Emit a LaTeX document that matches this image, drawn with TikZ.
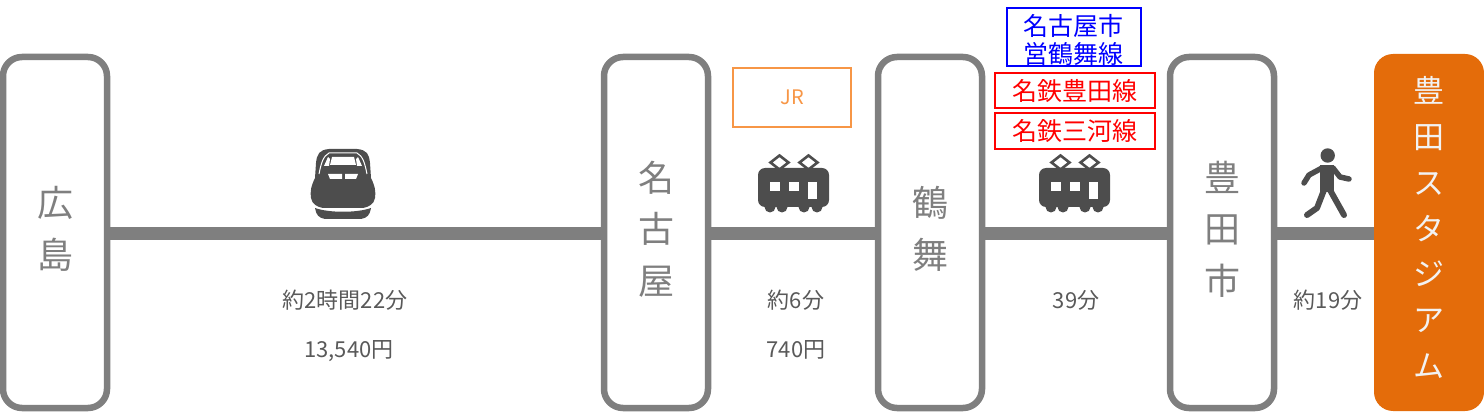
\documentclass[tikz,border=0pt]{standalone}
\usepackage{fontspec}
\setmainfont{Noto Sans CJK JP}
\usetikzlibrary{positioning}
\definecolor{linegray}{HTML}{7F7F7F}
\definecolor{icongray}{HTML}{4D4D4D}
\definecolor{textgray}{HTML}{595959}
\definecolor{goalorange}{HTML}{E46C0A}
\definecolor{jrorange}{HTML}{F79646}
\tikzset{
  stationbox/.style={draw=linegray, line width=6.5pt, rounded corners=19pt, fill=white,
    minimum width=104pt, minimum height=351pt, inner sep=0pt},
  stationtext/.style={inner sep=0pt, align=center, text=linegray,
    font=\fontsize{36}{51.5}\selectfont},
  goalbox/.style={fill=goalorange, rounded corners=19pt, minimum width=110pt,
    minimum height=357pt, inner sep=0pt},
  goaltext/.style={inner sep=0pt, align=center, text=white!95!black,
    font=\fontsize{31}{45.8}\selectfont},
  railline/.style={draw=linegray, line width=13pt},
  farelabel/.style={text=textgray, inner sep=0pt, font=\fontsize{22}{24}\selectfont},
  linebox/.style={draw, line width=2pt, inner sep=0pt},
  linetext/.style={inner sep=0pt, align=center, font=\fontsize{25}{28}\selectfont},
  pics/localtrain/.style={code={
    % pantographs
    \draw[icongray, line width=2.6pt] (-14,-28.5) -- (-5,-21.5) -- (-14,-14.5) -- (-23,-21.5) -- cycle;
    \draw[icongray, line width=2.6pt] (15,-28.5) -- (24,-21.5) -- (15,-14.5) -- (6,-21.5) -- cycle;
    % car body and wheels
    \fill[icongray, rounded corners=7pt] (-35.5,23) -- (-35.5,-16) -- (35.5,-16) -- (35.5,23) -- cycle;
    \foreach \wx in {-23.5,-11.5,10.5,23.5}
      \fill[icongray] (\wx,23) circle (5.5);
    % windows and door
    \fill[white] (-23.5,-2) rectangle (-13.5,7);
    \fill[white] (-4.5,-2) rectangle (5.5,7);
    \fill[white] (14.5,-2) rectangle (23.5,15);
  }},
}
\begin{document}
\begin{tikzpicture}[x=1pt, y=-1pt]
  \useasboundingbox (0,0) rectangle (1484,414);

  % Stations along the route
  \node[stationbox] (hiroshima) at (55,232.5) {};
  \node[stationbox] (nagoya) at (656,232.5) {};
  \node[stationbox] (tsurumai) at (930,232.5) {};
  \node[stationbox] (toyotashi) at (1222,232.5) {};
  \node[goalbox] (stadium) at (1429,232.5) {};

  % Track between the stations
  \draw[railline] ([yshift=-1pt]hiroshima.east) -- ([yshift=-1pt]nagoya.west);
  \draw[railline] ([yshift=-1pt]nagoya.east) -- ([yshift=-1pt]tsurumai.west);
  \draw[railline] ([yshift=-1pt]tsurumai.east) -- ([yshift=-1pt]toyotashi.west);
  \draw[railline] ([yshift=-1pt]toyotashi.east) -- ([yshift=-1pt]stadium.west);

  % Station names
  \node[stationtext] (hiroshimaname) at (55,229) {広\\島};
  \node[stationtext] (nagoyaname) at (656,229) {名\\古\\屋};
  \node[stationtext] (tsurumainame) at (930,229) {鶴\\舞};
  \node[stationtext] (toyotashiname) at (1222,229) {豊\\田\\市};
  \node[goaltext] (stadiumname) at (1429,227.5) {豊\\田\\ス\\タ\\ジ\\ア\\ム};

  % Operator boxes
  \node[linebox, draw=jrorange, minimum width=118pt, minimum height=59pt] (jr) at (792,97.5) {};
  \node[text=jrorange, inner sep=0pt, font=\fontsize{20}{24}\selectfont] (jrname) at (792,97.5) {JR};
  \node[linebox, draw=blue, minimum width=134pt, minimum height=58pt] (subway) at (1073.5,37.5) {};
  \node[linetext, text=blue] (subwayname) at (1073.5,40) {名古屋市\\営鶴舞線};
  \node[linebox, draw=red, minimum width=160pt, minimum height=35pt] (toyotaline) at (1075,90.5) {};
  \node[linetext, text=red] (toyotalinename) at (1075,91.5) {名鉄豊田線};
  \node[linebox, draw=red, minimum width=160pt, minimum height=36pt] (mikawaline) at (1075,131) {};
  \node[linetext, text=red] (mikawalinename) at (1075,131.5) {名鉄三河線};

  % Bullet train
  \begin{scope}[shift={(343,184)}]
    \fill[icongray] (-27,-21) .. controls (-26,-30) and (-24,-34) .. (-14,-35)
      -- (14,-35) .. controls (24,-34) and (26,-30) .. (27,-21)
      -- (28,-6) .. controls (32,2) and (33,8) .. (32,14)
      .. controls (31,20) and (26,23) .. (20,24) -- (-20,24)
      .. controls (-26,23) and (-31,20) .. (-32,14)
      .. controls (-33,8) and (-32,2) .. (-28,-6) -- cycle;
    \fill[icongray] (-28,24) .. controls (-14,29) and (14,29) .. (28,24)
      .. controls (27,31) and (24,34) .. (18,35) -- (-18,35)
      .. controls (-24,34) and (-27,31) .. (-28,24) -- cycle;
    \draw[white, line width=1pt] (-24,-10) .. controls (-22,-20) and (-20,-28) .. (-14,-31)
      -- (14,-31) .. controls (20,-28) and (22,-20) .. (24,-10);
    \fill[white] (-11,-27) -- (11,-27) -- (13,-19) -- (-13,-19) -- cycle;
    \fill[white] (-15,-27) -- (-19,-18) -- (-14,-18) -- (-13,-25) -- cycle;
    \fill[white] (15,-27) -- (19,-18) -- (14,-18) -- (13,-25) -- cycle;
    \fill[white] (-15,-10) -- (-1,-10) -- (-1,-5) -- (-13,-5) -- cycle;
    \fill[white] (15,-10) -- (2,-10) -- (2,-5) -- (13,-5) -- cycle;
  \end{scope}

  % Local trains
  \pic at (793.5,184) {localtrain};
  \pic at (1074.5,184) {localtrain};

  % Walker
  \fill[icongray] (1327.7,155.5) circle (7.2);
  \fill[icongray] (1320,165) -- (1334,165) -- (1334,192) -- (1320,192) -- cycle;
  \draw[icongray, line width=5.5pt, line cap=round, line join=round]
    (1322,168) -- (1309,175) -- (1304,183);
  \draw[icongray, line width=5.5pt, line cap=round, line join=round]
    (1333,168) -- (1340,177) -- (1349,179);
  \draw[icongray, line width=6pt, line cap=round, line join=round]
    (1324,190) -- (1317,208) -- (1307,215);
  \draw[icongray, line width=6pt, line cap=round, line join=round]
    (1330,190) -- (1344,215);

  % Travel time and fare
  \node[farelabel] (time1) at (345,300) {約2時間22分};
  \node[farelabel] (fare1) at (349,351) {13,540円};
  \node[farelabel] (time2) at (796,300) {約6分};
  \node[farelabel] (fare2) at (796,349.5) {740円};
  \node[farelabel] (time3) at (1076,300) {39分};
  \node[farelabel] (time4) at (1328,300) {約19分};
\end{tikzpicture}
\end{document}
